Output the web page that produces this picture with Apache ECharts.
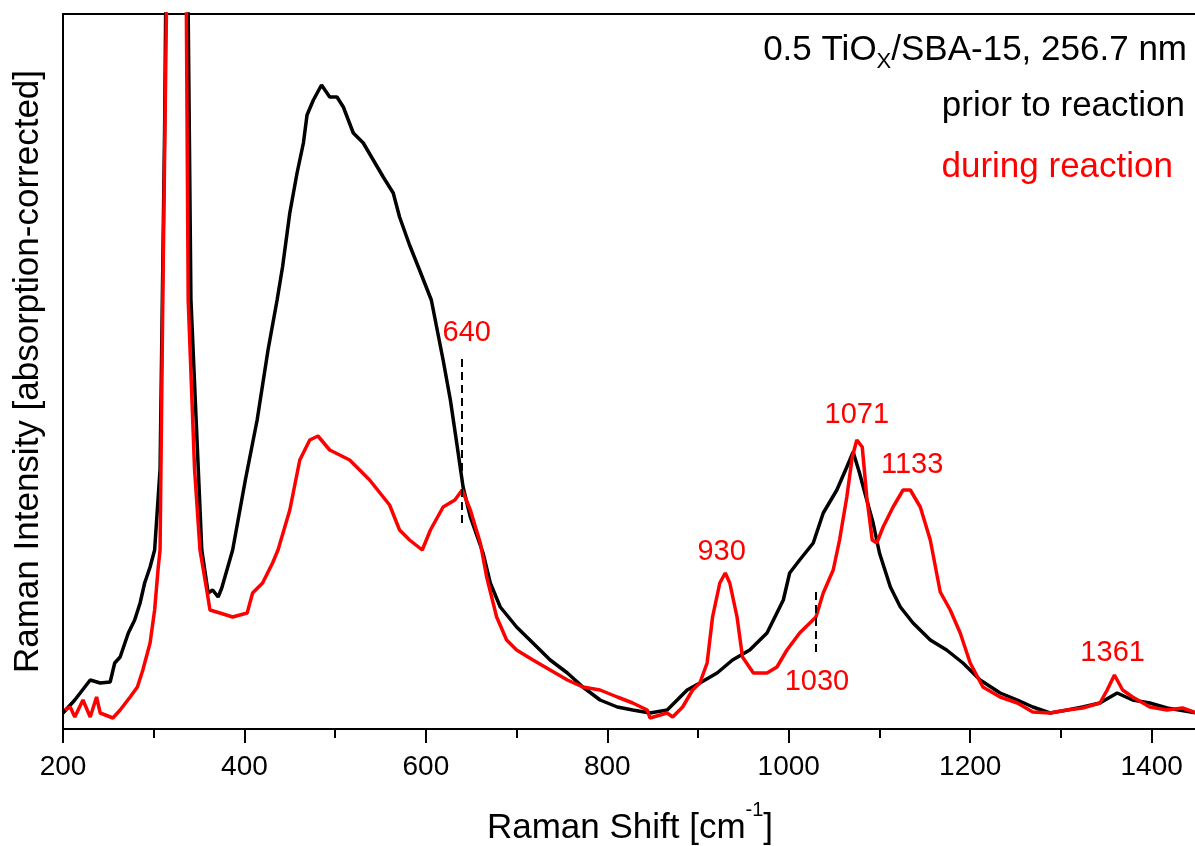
<!DOCTYPE html>
<html>
<head>
<meta charset="utf-8">
<script src="https://cdn.jsdelivr.net/npm/echarts@6/dist/echarts.min.js"></script>
<style>
html,body{margin:0;padding:0;background:#fff;}
#chart{width:1195px;height:846px;}
</style>
</head>
<body>
<div id="chart"></div>
<script>
// ---- data (Raman shift in cm-1, intensity in arbitrary units) ----
const blackShift = [200,213,230,241,252,257,263,272,279,285,290,296,301,307,312,318,327,334,338,341,353,360,365,371,375,387,401,414,426,436,442,450,458,465,469,476,485,494,502,509,520,531,542,553,564,571,582,593,606,619,627,634,641,649,663,671,682,700,718,737,756,773,792,811,828,847,866,877,888,902,921,938,957,976,994,1001,1012,1027,1038,1053,1064,1071,1078,1086,1093,1100,1112,1123,1137,1156,1174,1192,1211,1233,1252,1269,1288,1307,1324,1343,1362,1379,1398,1417,1450];
const blackIntensity = [16,29,49,46,47,66,72,96,109,126,146,162,179,260,600,1200,1500,1100,715,430,179,136,139,132,141,179,249,309,379,429,462,516,556,586,614,629,644,632,632,622,596,586,569,552,536,512,484,459,429,369,329,286,242,212,176,146,122,102,86,69,56,42,29,22,19,16,19,29,39,46,56,69,79,96,129,156,169,186,216,239,262,277,256,229,206,176,142,122,106,89,79,66,49,36,29,22,16,19,22,26,36,29,26,21,16];

const redShift = [202,208,213,222,230,237,241,255,263,274,282,288,296,301,305,307,310,314,320,330,336,338,345,351,359,362,373,387,403,409,420,431,437,450,461,472,481,494,516,538,560,571,582,596,605,619,632,640,649,660,667,678,689,700,718,737,756,773,792,811,828,844,847,866,872,883,894,902,910,916,924,930,935,943,949,961,976,987,998,1012,1030,1038,1049,1056,1064,1070,1075,1081,1086,1092,1097,1104,1115,1126,1134,1145,1156,1167,1178,1189,1200,1214,1233,1252,1269,1288,1307,1324,1343,1351,1359,1368,1379,1398,1417,1434,1450];
const redIntensity = [19,22,12,29,12,32,16,11,19,32,42,59,86,119,162,179,429,715,1500,1500,715,429,260,179,136,119,116,112,116,136,146,166,179,219,269,289,293,279,269,249,224,199,189,179,199,222,229,239,219,186,152,112,89,79,69,59,49,42,39,32,26,19,11,16,12,22,39,46,66,112,146,156,146,112,72,56,56,62,79,96,112,136,159,189,232,272,289,282,232,189,186,202,222,239,239,222,189,137,119,96,66,42,32,26,17,16,19,21,26,39,54,39,32,22,19,21,16];

const peakLabels = ['640','930','1030','1071','1133','1361'];
const peakLabelShift = [645,926,1031,1075,1136,1357];
const peakLabelLevel = [396,177,47,314,264,76];

const markerShift = [640,1030];
const markerFrom = [206,77];
const markerTo = [374,141];

const xMin = 200, xMax = 1450, yMin = 0, yMax = 715;
const xTickStep = 200;

const legendLines = ['{m|0.5 TiO}{sub|X}{m|/SBA-15, 256.7 nm}','prior to reaction','during reaction'];

// ---- chart ----
const FONT = 'Liberation Sans, Arial, sans-serif';
const chart = echarts.init(document.getElementById('chart'), null, {renderer:'canvas'});

const pair = (xs, ys) => xs.map((x,i)=>[x, ys[i]]);

const option = {
  animation: false,
  backgroundColor: '#fff',
  grid: {left: 63, top: 14, right: -2, bottom: 117, outerBoundsMode: 'none', containLabel: false,
    show: true, borderColor: '#000', borderWidth: 2, backgroundColor: 'transparent'},
  xAxis: [{
    type: 'value', min: xMin, max: xMax, interval: xTickStep, position: 'bottom',
    axisLine: {show: true, onZero: false, lineStyle: {color: '#000', width: 2}},
    axisTick: {show: true, inside: false, length: 14, lineStyle: {color: '#000', width: 2}},
    axisLabel: {show: true, color: '#000', fontSize: 28, fontFamily: FONT, margin: 24,
      formatter: v => (v % xTickStep === 0 ? String(v) : ''), showMaxLabel: false},
    splitLine: {show: false},
    name: 'Raman Shift [cm{sup|-1}]', nameLocation: 'middle', nameGap: 71,
    nameTextStyle: {color: '#000', fontSize: 35, fontFamily: FONT, verticalAlign: 'top', lineHeight: 56,
      rich: {sup: {fontSize: 20, fontFamily: FONT, color: '#000', verticalAlign: 'top', lineHeight: 20}}}
  }, {
    type: 'value', min: xMin, max: xMax, interval: xTickStep/2, position: 'bottom',
    axisLine: {show: false, onZero: false},
    axisTick: {show: true, inside: false, length: 9, lineStyle: {color: '#000', width: 2}},
    axisLabel: {show: false}, splitLine: {show: false}
  }],
  yAxis: {
    type: 'value', min: yMin, max: yMax,
    axisLine: {show: true, lineStyle: {color: '#000', width: 2}},
    axisTick: {show: false}, axisLabel: {show: false}, splitLine: {show: false},
    name: 'Raman Intensity [absorption-corrected]', nameLocation: 'middle', nameGap: 17, nameRotate: 90,
    nameTextStyle: {color: '#000', fontSize: 35, fontFamily: FONT}
  },
  series: [{
    name: 'prior to reaction', type: 'line', xAxisIndex: 0, data: pair(blackShift, blackIntensity),
    showSymbol: false, symbol: 'none', clip: true,
    lineStyle: {color: '#000', width: 3.5}, z: 2,
    markLine: {silent: true, symbol: 'none', label: {show: false},
      lineStyle: {color: '#000', width: 2, type: [8, 5]},
      data: markerShift.map((x,i)=>[{coord:[x, markerFrom[i]]},{coord:[x, markerTo[i]]}])}
  }, {
    name: 'during reaction', type: 'line', xAxisIndex: 0, data: pair(redShift, redIntensity),
    showSymbol: false, symbol: 'none', clip: true,
    lineStyle: {color: '#ff0000', width: 3.5}, z: 3
  }, {
    name: 'peaks', type: 'scatter', xAxisIndex: 0,
    data: peakLabels.map((t,i)=>({value:[peakLabelShift[i], peakLabelLevel[i]], name: t})),
    symbolSize: 2, itemStyle: {color: 'rgba(0,0,0,0)'}, z: 4,
    label: {show: true, position: 'inside', formatter: p => p.name, color: '#ff0000', fontSize: 29,
      fontFamily: FONT, textBorderWidth: 0, opacity: 1}
  }],
  graphic: [
    {type: 'text', right: 8, top: 24, z: 10, style: {text: legendLines[0], fill: '#000',
      rich: {
        m: {fontSize: 35, fontFamily: FONT, fill: '#000', lineHeight: 40, verticalAlign: 'top'},
        sub: {fontSize: 22, fontFamily: FONT, fill: '#000', lineHeight: 22, verticalAlign: 'bottom', padding: [27,0,0,0]}
      }}},
    {type: 'text', right: 10, top: 89, z: 10, style: {text: legendLines[1], font: '35px ' + FONT, fill: '#000'}},
    {type: 'text', right: 22, top: 150, z: 10, style: {text: legendLines[2], font: '35px ' + FONT, fill: '#ff0000'}}
  ]
};
chart.setOption(option);
</script>
</body>
</html>
